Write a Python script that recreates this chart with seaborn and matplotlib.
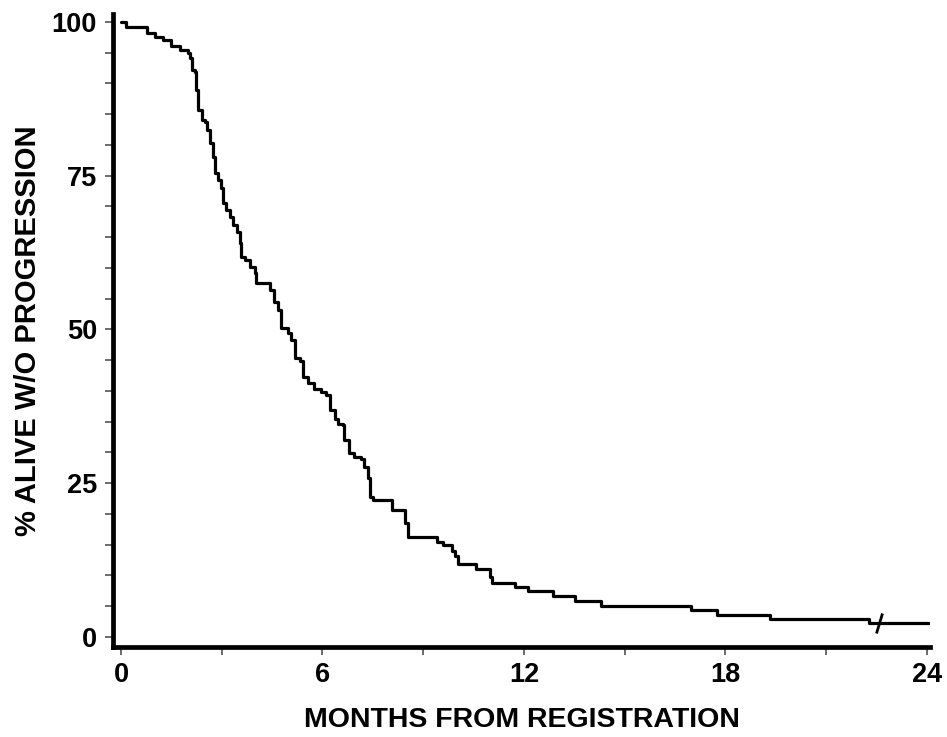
import matplotlib
matplotlib.use("Agg")
import matplotlib.pyplot as plt
from matplotlib.markers import MarkerStyle
from matplotlib.transforms import Affine2D
from matplotlib.ticker import MultipleLocator
import seaborn as sns

# Kaplan-Meier step curve (month of step, % after step)
months = [0.00, 0.15, 0.78, 1.00, 1.25, 1.50, 1.75, 2.00, 2.05, 2.10, 2.20,
          2.23, 2.30, 2.40, 2.49, 2.55, 2.64, 2.74, 2.79, 2.89, 2.99, 3.04,
          3.14, 3.24, 3.34, 3.44, 3.53, 3.58, 3.68, 3.83, 3.98, 4.03, 4.43,
          4.57, 4.67, 4.77, 4.97, 5.07, 5.17, 5.32, 5.41, 5.56, 5.76, 5.96,
          6.11, 6.21, 6.36, 6.45, 6.60, 6.65, 6.80, 6.95, 7.15, 7.25, 7.35,
          7.40, 7.49, 8.06, 8.45, 8.55, 9.40, 9.60, 9.85, 9.95, 10.05, 10.58,
          10.98, 11.05, 11.72, 12.12, 12.86, 13.52, 14.30, 16.98, 17.74,
          19.32, 22.29, 24.05]
pct_alive = [100.0, 99.2, 98.2, 97.6, 97.0, 96.1, 95.4, 94.9, 94.1, 92.2, 91.9,
             88.9, 85.7, 84.1, 83.8, 82.4, 80.3, 78.1, 75.4, 74.3, 73.0, 70.5,
             69.4, 68.3, 67.0, 65.9, 64.0, 61.8, 61.3, 60.2, 59.1, 57.5, 56.4,
             54.5, 53.2, 50.2, 49.4, 48.3, 45.3, 44.8, 42.3, 41.3, 40.4, 39.9,
             39.3, 36.9, 35.5, 34.7, 34.5, 32.0, 29.9, 29.3, 29.0, 27.7, 25.8,
             22.8, 22.3, 20.7, 18.5, 16.3, 15.5, 15.0, 13.9, 13.1, 11.9, 11.0,
             9.8, 8.8, 8.2, 7.4, 6.7, 5.9, 5.1, 4.4, 3.6,
             3.0, 2.2, 2.2]

# censored observation
censor_month = [22.57]
censor_pct = [2.2]

x_ticks = [0, 6, 12, 18, 24]
y_ticks = [0, 25, 50, 75, 100]


def main():
    sns.set_style("ticks")
    plt.rcParams["font.family"] = ["Liberation Sans", "DejaVu Sans"]
    plt.rcParams["font.weight"] = "bold"
    plt.rcParams["text.color"] = "black"
    plt.rcParams["xtick.labelcolor"] = "black"
    plt.rcParams["ytick.labelcolor"] = "black"
    plt.rcParams["axes.labelcolor"] = "black"

    fig = plt.figure(figsize=(9.47, 7.37), dpi=100)
    ax = fig.add_axes([0.1193, 0.1221, 0.863, 0.859])

    sns.lineplot(x=months, y=pct_alive, drawstyle="steps-post",
                 color="black", linewidth=2.3, ax=ax)

    mark = MarkerStyle("|", transform=Affine2D().rotate_deg(-17))
    ax.plot(censor_month, censor_pct, linestyle="none", marker=mark,
            markersize=15, markeredgewidth=2.0, color="black")

    ax.set_xlim(-0.24, 24.1)
    ax.set_ylim(-1.63, 101.3)
    ax.set_xticks(x_ticks)
    ax.set_yticks(y_ticks)
    ax.xaxis.set_minor_locator(MultipleLocator(3))
    ax.yaxis.set_minor_locator(MultipleLocator(5))

    for side in ["top", "right"]:
        ax.spines[side].set_visible(False)
    for side in ["left", "bottom"]:
        ax.spines[side].set_linewidth(3.4)
        ax.spines[side].set_color("black")

    ax.tick_params(which="both", direction="out", length=5.5, width=1.1,
                   color="#444444")
    ax.tick_params(axis="y", which="major", labelsize=19.5, pad=6)
    ax.tick_params(axis="x", which="major", labelsize=19.5, pad=5)
    for lbl in ax.get_xticklabels() + ax.get_yticklabels():
        lbl.set_fontweight("bold")

    ax.set_xlabel("MONTHS FROM REGISTRATION", fontsize=20.5, fontweight="bold",
                  labelpad=14)
    ax.set_ylabel("% ALIVE W/O PROGRESSION", fontsize=21, fontweight="bold",
                  labelpad=7)

    fig.savefig("out.png", dpi=100)
    plt.close(fig)


if __name__ == "__main__":
    main()
